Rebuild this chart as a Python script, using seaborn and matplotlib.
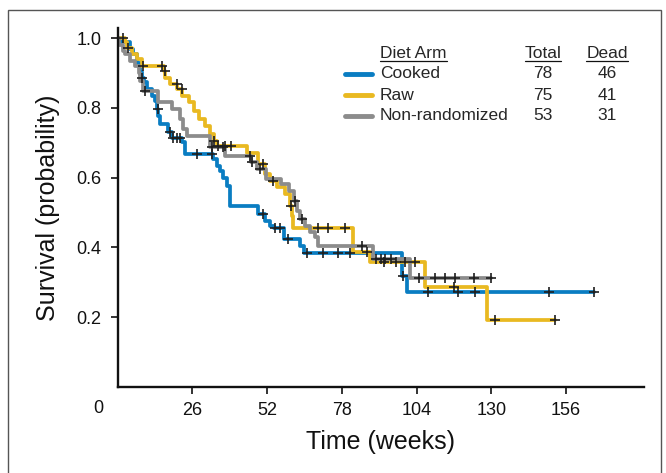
import numpy as np
import pandas as pd
import seaborn as sns
import matplotlib.pyplot as plt
from matplotlib.lines import Line2D
from matplotlib.patches import Rectangle

# Kaplan-Meier curves (step times in weeks, survival after the step)
arms = ['Cooked', 'Raw', 'Non-randomized']
totals = [78, 75, 53]
deaths = [46, 41, 31]
colors = ['#0a7dc2', '#e9b921', '#8c8c8c']

cooked_t = [0, 1.5, 4.3, 5.4, 6.6, 7.8, 8.4, 9.0, 10.1, 11.8, 13.0, 13.6, 14.1, 14.7, 17.6, 18.8,
            22.3, 23.4, 33.3, 34.4, 35.6, 36.7, 37.9, 39.1, 48.9, 51.3, 53.0, 54.5, 58.0, 63.5,
            65.0, 98.8, 100.6]
cooked_s = [1.0, 0.988, 0.968, 0.954, 0.930, 0.902, 0.887, 0.873, 0.854, 0.835, 0.820, 0.797, 0.777,
            0.754, 0.730, 0.715, 0.701, 0.668, 0.653, 0.634, 0.620, 0.600, 0.577, 0.520, 0.496,
            0.476, 0.462, 0.457, 0.424, 0.405, 0.383, 0.317, 0.273]
cooked_end = 165.8
cooked_cens = [8.6, 13.9, 18.2, 19.4, 20.5, 21.7, 27.7, 32.7, 50.7, 54.7, 56.5, 59.4, 65.8, 71.6,
               76.8, 80.9, 99.3, 108.0, 118.5, 124.4, 150.0, 165.8]

raw_t = [0, 2.5, 3.4, 5.0, 6.7, 8.5, 16.0, 16.6, 18.3, 20.6, 22.4, 24.7, 26.5, 28.2, 30.5, 32.2,
         33.4, 34.5, 44.9, 48.9, 51.3, 53.0, 55.3, 58.2, 59.9, 60.6, 61.1, 82.0, 87.8, 107.0, 128.5]
raw_s = [1.0, 0.988, 0.973, 0.955, 0.940, 0.920, 0.905, 0.887, 0.868, 0.854, 0.835, 0.816, 0.790,
         0.768, 0.749, 0.725, 0.706, 0.691, 0.672, 0.639, 0.610, 0.591, 0.572, 0.553, 0.520, 0.490,
         0.455, 0.386, 0.357, 0.286, 0.193]
raw_end = 152.0
raw_cens = [1.9, 3.6, 8.8, 15.3, 16.5, 20.5, 22.3, 33.5, 35.0, 37.5, 39.5, 50.5, 54.2, 60.2, 69.8,
            73.3, 79.1, 86.6, 92.7, 97.0, 100.0, 103.5, 117.0, 131.3, 152.0]

nonrand_t = [0, 0.5, 1.8, 2.6, 4.3, 6.1, 7.3, 7.8, 8.9, 14.1, 18.8, 21.7, 22.8, 24.0, 32.1, 37.3,
             46.5, 48.5, 51.5, 56.8, 59.5, 61.3, 62.3, 63.5, 65.2, 67.0, 68.7, 69.8, 89.0, 101.7]
nonrand_s = [1.0, 0.980, 0.964, 0.954, 0.935, 0.920, 0.900, 0.878, 0.849, 0.816, 0.797, 0.768,
             0.739, 0.720, 0.688, 0.663, 0.644, 0.625, 0.596, 0.582, 0.562, 0.534, 0.505, 0.481,
             0.462, 0.443, 0.429, 0.405, 0.367, 0.311]
nonrand_end = 130.0
nonrand_cens = [9.5, 32.8, 36.5, 46.0, 46.6, 49.5, 61.7, 64.0, 84.9, 89.8, 91.5, 93.0, 95.0, 105.0,
                110.5, 114.0, 117.5, 124.0, 130.0]

x_ticks = [26, 52, 78, 104, 130, 156]
y_ticks = [0.2, 0.4, 0.6, 0.8, 1.0]


def surv_at(t, s, x):
    idx = np.searchsorted(np.array(t), x, side='right') - 1
    return np.array(s)[idx]


curves = [(cooked_t, cooked_s, cooked_end, cooked_cens),
          (raw_t, raw_s, raw_end, raw_cens),
          (nonrand_t, nonrand_s, nonrand_end, nonrand_cens)]

line_frames = []
cens_frames = []
for arm, (t, s, end, cens) in zip(arms, curves):
    line_frames.append(pd.DataFrame({'time': t + [end], 'surv': s + [s[-1]], 'arm': arm}))
    cens_frames.append(pd.DataFrame({'time': cens, 'surv': surv_at(t, s, cens), 'arm': arm}))
lines = pd.concat(line_frames, ignore_index=True)
censored = pd.concat(cens_frames, ignore_index=True)

sns.set_theme(style='ticks')
plt.rcParams['font.family'] = ['Liberation Sans', 'DejaVu Sans']

W, H = 666, 473
fig = plt.figure(figsize=(W / 100, H / 100), dpi=100)
ax = fig.add_axes([117.7 / W, (H - 387) / H, (643.6 - 117.7) / W, (387 - 28) / H])

sns.lineplot(data=lines, x='time', y='surv', hue='arm', palette=dict(zip(arms, colors)),
             drawstyle='steps-post', estimator=None, sort=False, legend=False,
             linewidth=2.7, ax=ax)
sns.scatterplot(data=censored, x='time', y='surv', marker='+', color='#1e1e1e', s=55,
                linewidth=1.2, legend=False, ax=ax, zorder=5)

ax.set_xlim(0, 183)
ax.set_ylim(0, 1.029)
ax.set_xticks(x_ticks)
ax.set_xticklabels([str(v) for v in x_ticks])
ax.set_yticks(y_ticks)
ax.set_yticklabels([f'{v:.1f}' for v in y_ticks])
ax.tick_params(axis='both', direction='out', length=5, width=1.2, colors='#111111',
               labelsize=13)
ax.tick_params(axis='x', pad=6)
ax.tick_params(axis='y', pad=6.5)
for side in ['top', 'right']:
    ax.spines[side].set_visible(False)
for side in ['left', 'bottom']:
    ax.spines[side].set_linewidth(1.7)
    ax.spines[side].set_color('#111111')

ax.annotate('0', xy=(0, 0), xycoords='axes fraction', xytext=(-19.7, -13),
            textcoords='offset pixels', ha='center', va='top', fontsize=13, color='#111111')
ax.set_xlabel('Time (weeks)', fontsize=18, labelpad=8, color='#111111')
ax.set_ylabel('Survival (probability)', fontsize=18, labelpad=12, color='#111111')


def fx(px):
    return px / W


def fy(py):
    return 1 - py / H


# legend table
headers = [fig.text(fx(380), fy(53), 'Diet Arm', ha='left', va='center', fontsize=12.5),
           fig.text(fx(543), fy(53), 'Total', ha='center', va='center', fontsize=12.5),
           fig.text(fx(607), fy(53), 'Dead', ha='center', va='center', fontsize=12.5)]
row_y = [74, 95, 116]
for arm, c, n, d, y in zip(arms, colors, totals, deaths, row_y):
    fig.add_artist(Line2D([fx(345), fx(372)], [fy(y), fy(y)], color=c, lw=3.5,
                          transform=fig.transFigure))
    fig.text(fx(380), fy(y), arm, ha='left', va='center', fontsize=12.5)
    fig.text(fx(543), fy(y), str(n), ha='center', va='center', fontsize=12.5)
    fig.text(fx(607), fy(y), str(d), ha='center', va='center', fontsize=12.5)

fig.canvas.draw()
renderer = fig.canvas.get_renderer()
for txt in headers:
    bb = txt.get_window_extent(renderer)
    yy = (bb.y0 - 0.5) / fig.bbox.height
    fig.add_artist(Line2D([bb.x0 / fig.bbox.width, bb.x1 / fig.bbox.width], [yy, yy],
                          color='#111111', lw=0.9, transform=fig.transFigure))

# panel frame
fig.add_artist(Rectangle((fx(7.5), -0.05), fx(661) - fx(7.5), fy(10) + 0.05,
                         transform=fig.transFigure, fill=False, edgecolor='#555555',
                         lw=1.0, clip_on=False))

fig.savefig('out.png', dpi=100)
